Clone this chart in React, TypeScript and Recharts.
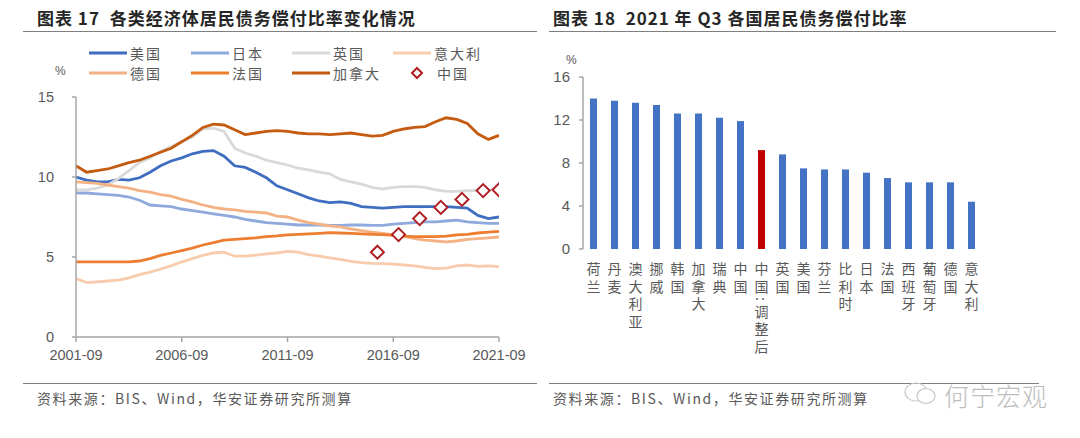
import React from 'react';
import { ComposedChart, Line, Scatter, XAxis, YAxis, BarChart, Bar, Cell } from 'recharts';

// years since 2001-09, half-year steps
const T = [
  0, 0.5, 1, 1.5, 2, 2.5, 3, 3.5, 4, 4.5, 5, 5.5, 6, 6.5, 7, 7.5, 8, 8.5, 9, 9.5, 10,
  10.5, 11, 11.5, 12, 12.5, 13, 13.5, 14, 14.5, 15, 15.5, 16, 16.5, 17, 17.5, 18, 18.5, 19, 19.5, 20,
];

const usa = [
  10.0, 9.8, 9.7, 9.7, 9.85, 9.8, 9.95, 10.3, 10.7, 11.0, 11.2, 11.45, 11.6, 11.65, 11.3, 10.7, 10.6, 10.3, 9.95, 9.45, 9.2,
  8.95, 8.7, 8.5, 8.4, 8.45, 8.35, 8.15, 8.1, 8.05, 8.1, 8.15, 8.15, 8.15, 8.15, 8.15, 8.1, 8.05, 7.6, 7.4, 7.5,
];
const japan = [
  9.0, 9.0, 8.95, 8.9, 8.85, 8.75, 8.55, 8.25, 8.2, 8.15, 8.0, 7.9, 7.8, 7.7, 7.6, 7.5, 7.35, 7.25, 7.15, 7.1, 7.05,
  7.0, 7.0, 7.0, 6.98, 6.98, 7.0, 7.0, 6.98, 6.98, 7.05, 7.1, 7.15, 7.2, 7.2, 7.25, 7.3, 7.2, 7.15, 7.1, 7.1,
];
const uk = [
  9.2, 9.2, 9.3, 9.5, 9.9, 10.4, 10.9, 11.2, 11.6, 11.9, 12.2, 12.5, 13.0, 13.05, 12.85, 11.8, 11.5, 11.3, 11.05, 10.9, 10.75,
  10.55, 10.45, 10.3, 10.2, 9.85, 9.7, 9.55, 9.35, 9.25, 9.35, 9.4, 9.4, 9.35, 9.2, 9.1, 9.1, 9.15, 9.15, 9.2, 9.2,
];
const italy = [
  3.65, 3.4, 3.45, 3.5, 3.55, 3.7, 3.9, 4.05, 4.25, 4.45, 4.7, 4.9, 5.1, 5.25, 5.3, 5.05, 5.05, 5.12, 5.2, 5.25, 5.35,
  5.3, 5.15, 5.05, 4.95, 4.85, 4.72, 4.65, 4.6, 4.58, 4.55, 4.5, 4.45, 4.35, 4.28, 4.3, 4.45, 4.5, 4.42, 4.45, 4.4,
];
const germany = [
  9.7, 9.65, 9.6, 9.5, 9.4, 9.3, 9.15, 9.05, 8.9, 8.8, 8.6, 8.45, 8.25, 8.1, 8.0, 7.95, 7.85, 7.8, 7.75, 7.55, 7.5,
  7.3, 7.15, 7.05, 6.95, 6.88, 6.75, 6.65, 6.55, 6.48, 6.4, 6.3, 6.15, 6.05, 6.0, 5.95, 6.0, 6.1, 6.15, 6.2, 6.25,
];
const france = [
  4.7, 4.7, 4.7, 4.7, 4.7, 4.7, 4.75, 4.9, 5.1, 5.25, 5.4, 5.55, 5.75, 5.9, 6.05, 6.1, 6.15, 6.2, 6.28, 6.32, 6.38,
  6.42, 6.45, 6.48, 6.52, 6.5, 6.48, 6.45, 6.42, 6.4, 6.35, 6.3, 6.27, 6.27, 6.27, 6.3, 6.38, 6.42, 6.5, 6.55, 6.6,
];
const canada = [
  10.7, 10.3, 10.4, 10.5, 10.7, 10.9, 11.05, 11.3, 11.55, 11.8, 12.2, 12.6, 13.1, 13.3, 13.25, 12.95, 12.65, 12.75, 12.85, 12.9, 12.85,
  12.75, 12.7, 12.7, 12.65, 12.7, 12.75, 12.65, 12.55, 12.6, 12.85, 13.0, 13.1, 13.15, 13.45, 13.7, 13.6, 13.35, 12.7, 12.35, 12.6,
];
const chinaT = [14.25, 15.25, 16.25, 17.25, 18.25, 19.25, 20];
const chinaV = [5.3, 6.4, 7.4, 8.1, 8.6, 9.15, 9.2];

const xTicks = [0, 5, 10, 15, 20];
const xTickLabels = ['2001-09', '2006-09', '2011-09', '2016-09', '2021-09'];
const yTicksLeft = [0, 5, 10, 15];

const countries = [
  '荷兰', '丹麦', '澳大利亚', '挪威', '韩国', '加拿大', '瑞典', '中国', '中国:调整后', '英国',
  '美国', '芬兰', '比利时', '日本', '法国', '西班牙', '葡萄牙', '德国', '意大利',
];
const ratio2021 = [14.0, 13.8, 13.6, 13.4, 12.6, 12.6, 12.2, 11.9, 9.2, 8.8, 7.5, 7.4, 7.4, 7.1, 6.6, 6.2, 6.2, 6.2, 4.4];
const bandEdges = [0, 1, 2, 3, 4, 5, 6, 7, 8, 9, 10, 11, 12, 13, 14, 15, 16, 17, 18, 19];
const yTicksRight = [0, 4, 8, 12, 16];

const series = [
  { name: '美国', values: usa, color: '#3F6DC0' },
  { name: '日本', values: japan, color: '#8EA9DB' },
  { name: '英国', values: uk, color: '#D9D9D9' },
  { name: '意大利', values: italy, color: '#F8CBAD' },
  { name: '德国', values: germany, color: '#F4B183' },
  { name: '法国', values: france, color: '#ED7D31' },
  { name: '加拿大', values: canada, color: '#C55A11' },
];
const CHINA_COLOR = '#B01E23';

const toPoints = (vals: number[]) => vals.map((v, i) => ({ t: T[i], v }));
const chinaPoints = chinaT.map((t, i) => ({ t, v: chinaV[i] }));
const barData = countries.map((name, i) => ({ name, value: ratio2021[i] }));

const AXIS = '#A6A6A6';
const TEXT = '#595959';
const NUM_FONT = "'Liberation Sans', 'Noto Sans CJK SC', sans-serif";
const CJK_FONT = "'Noto Sans CJK SC', sans-serif";

const Diamond = (props: any) => {
  const { cx, cy } = props;
  const r = 6.5;
  return (
    <path
      d={`M${cx},${cy - r} L${cx + r},${cy} L${cx},${cy + r} L${cx - r},${cy} Z`}
      fill="#fff"
      stroke={CHINA_COLOR}
      strokeWidth={2}
    />
  );
};

const legendCols = [89, 191, 292, 393];
const legendRows = [53, 73];
const legendOrder = ['美国', '日本', '英国', '意大利', '德国', '法国', '加拿大', '中国'];

const LeftLegend = () => (
  <svg width={540} height={90} style={{ position: 'absolute', left: 0, top: 0 }}>
    {legendOrder.map((name, i) => {
      const x = legendCols[i % 4];
      const y = legendRows[Math.floor(i / 4)];
      const s = series.find((d) => d.name === name);
      return (
        <g key={name}>
          {s ? (
            <line x1={x} x2={x + 38} y1={y} y2={y} stroke={s.color} strokeWidth={3} />
          ) : (
            <path d={`M${x + 24},${y - 5} L${x + 29},${y} L${x + 24},${y + 5} L${x + 19},${y} Z`} fill="#fff" stroke={CHINA_COLOR} strokeWidth={2} />
          )}
          <text x={s ? x + 41 : x + 44} y={y} dominantBaseline="central" fontSize={14} fill={TEXT} fontFamily={CJK_FONT} letterSpacing={2}>
            {name}
          </text>
        </g>
      );
    })}
  </svg>
);

// category names written top-to-bottom, one label per text element
const VerticalTick = (props: any) => {
  const { x, y, payload } = props;
  return (
    <text
      x={x}
      y={y + 5}
      fontSize={14}
      fill={TEXT}
      fontFamily={CJK_FONT}
      letterSpacing={3.5}
      style={{ writingMode: 'vertical-rl' } as React.CSSProperties}
    >
      {payload.value}
    </text>
  );
};

const titleStyle: React.CSSProperties = {
  position: 'absolute',
  top: 5,
  fontFamily: CJK_FONT,
  fontWeight: 700,
  fontSize: 17,
  letterSpacing: 1,
  color: '#262626',
  whiteSpace: 'nowrap',
};
const sourceStyle: React.CSSProperties = {
  position: 'absolute',
  top: 388,
  fontFamily: CJK_FONT,
  fontSize: 14,
  letterSpacing: 1.6,
  color: TEXT,
  whiteSpace: 'nowrap',
};
const rule = (left: number, top: number, width: number): React.CSSProperties => ({
  position: 'absolute',
  left,
  top,
  width,
  height: 0,
  borderTop: '1.5px solid #7F7F7F',
});

export default function App() {
  return (
    <div style={{ position: 'absolute', left: 0, top: 0, width: 1080, height: 438, background: '#fff', overflow: 'hidden' }}>
      <div style={{ ...titleStyle, left: 37 }}>图表 17&nbsp; 各类经济体居民债务偿付比率变化情况</div>
      <div style={{ ...titleStyle, left: 553 }}>图表 18&nbsp; 2021 年 Q3 各国居民债务偿付比率</div>
      <div style={rule(23, 31, 514)} />
      <div style={rule(549, 31, 507)} />
      <div style={rule(23, 383, 514)} />
      <div style={rule(549, 383, 490)} />

      <div style={{ position: 'absolute', left: 55, top: 64, fontSize: 12, color: TEXT, fontFamily: NUM_FONT }}>%</div>
      <div style={{ position: 'absolute', left: 566, top: 53, fontSize: 12, color: TEXT, fontFamily: NUM_FONT }}>%</div>

      <div style={{ position: 'absolute', left: 0, top: 0 }}>
        <ComposedChart width={540} height={380} margin={{ top: 97, right: 41, bottom: 13, left: 36 }}>
          <XAxis
            dataKey="t"
            type="number"
            domain={[0, 20]}
            ticks={xTicks}
            tickFormatter={(v: number) => xTickLabels[xTicks.indexOf(v)]}
            allowDataOverflow
            height={30}
            stroke={AXIS}
            strokeWidth={1.5}
            tickSize={5}
            tickMargin={8}
            tick={{ fill: TEXT, fontSize: 14.5, fontFamily: NUM_FONT }}
          />
          <YAxis
            dataKey="v"
            type="number"
            domain={[0, 15]}
            ticks={yTicksLeft}
            width={40}
            stroke={AXIS}
            strokeWidth={1.5}
            tickSize={4}
            tickMargin={18}
            tick={{ fill: TEXT, fontSize: 14.5, fontFamily: NUM_FONT }}
          />
          {series.map((s) => (
            <Line
              key={s.name}
              data={toPoints(s.values)}
              dataKey="v"
              name={s.name}
              type="linear"
              stroke={s.color}
              strokeWidth={2.8}
              dot={false}
              activeDot={false}
              isAnimationActive={false}
            />
          ))}
          <Scatter data={chinaPoints} dataKey="v" name="中国" shape={<Diamond />} isAnimationActive={false} />
        </ComposedChart>
      </div>
      <LeftLegend />

      <div style={{ position: 'absolute', left: 540, top: 0 }}>
        <BarChart width={540} height={380} data={barData} margin={{ top: 77, right: 98, bottom: 11, left: 13 }}>
          <XAxis
            xAxisId="edges"
            type="number"
            domain={[0, 19]}
            ticks={bandEdges}
            tick={false}
            height={0}
            stroke={AXIS}
            strokeWidth={1.5}
            tickSize={5}
          />
          <XAxis
            xAxisId="cat"
            dataKey="name"
            type="category"
            interval={0}
            height={120}
            axisLine={false}
            tickLine={false}
            tick={<VerticalTick />}
          />
          <YAxis
            type="number"
            domain={[0, 16]}
            ticks={yTicksRight}
            width={30}
            stroke={AXIS}
            strokeWidth={1.5}
            tickSize={4}
            tickMargin={9}
            tick={{ fill: TEXT, fontSize: 15, fontFamily: NUM_FONT }}
          />
          <Bar dataKey="value" xAxisId="cat" barSize={7} isAnimationActive={false}>
            {barData.map((d, i) => (
              <Cell key={d.name} fill={i === 8 ? '#C00000' : '#4472C4'} />
            ))}
          </Bar>
        </BarChart>
      </div>

      <div style={{ ...sourceStyle, left: 37 }}>资料来源：BIS、Wind，华安证券研究所测算</div>
      <div style={{ ...sourceStyle, left: 553 }}>资料来源：BIS、Wind，华安证券研究所测算</div>

      <svg width={40} height={30} style={{ position: 'absolute', left: 902, top: 378 }}>
        <ellipse cx={14} cy={14} rx={11} ry={9} fill="none" stroke="#C8C8C8" strokeWidth={1.2} />
        <ellipse cx={24} cy={18} rx={9} ry={7.5} fill="#fff" stroke="#C8C8C8" strokeWidth={1.2} />
      </svg>
      <div style={{ position: 'absolute', left: 944, top: 377, fontSize: 25, color: '#BDBDBD', fontFamily: CJK_FONT, fontWeight: 300, letterSpacing: 1 }}>
        何宁宏观
      </div>
    </div>
  );
}
